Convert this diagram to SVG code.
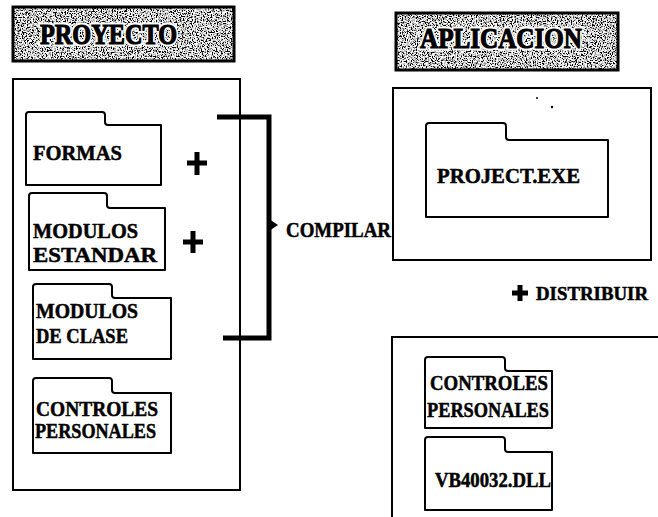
<svg xmlns="http://www.w3.org/2000/svg" width="658" height="517" viewBox="0 0 658 517">
<style>
.box{fill:none;stroke:#000;stroke-width:2}
.folder{fill:#fff;stroke:#000;stroke-width:2;stroke-linejoin:round}
.lbl{font-family:"Liberation Serif","Times New Roman",serif;font-weight:bold;font-size:21px;fill:#000;stroke:#000;stroke-width:0.5}
.hdr{font-family:"Liberation Serif","Times New Roman",serif;font-weight:bold;font-size:30px;fill:#000}
.halo{stroke:#fff;stroke-width:5;stroke-linejoin:round}
.ink{stroke:#000;stroke-width:1.2}
.plus{stroke:#000;stroke-width:5;fill:none}
.brk{stroke:#000;stroke-width:5;fill:none;stroke-linejoin:miter}
</style>
<defs>
<filter id="grain" x="0" y="0" width="100%" height="100%">
<feTurbulence type="fractalNoise" baseFrequency="0.8" numOctaves="2" seed="3" result="n"/>
<feColorMatrix in="n" type="matrix" values="0 0 0 0 0  0 0 0 0 0  0 0 0 0 0  -5 0 0 0 2.9" result="a"/>
<feComposite in="a" in2="SourceGraphic" operator="in" result="dots"/>
<feMerge><feMergeNode in="SourceGraphic"/><feMergeNode in="dots"/></feMerge>
</filter>
</defs>

<g id="hdr-proyecto">
<rect x="13" y="7" width="221" height="54" fill="#fff" filter="url(#grain)"/>
<rect x="13" y="7" width="221" height="54" fill="none" stroke="#000" stroke-width="3"/>
<text class="hdr halo" x="40" y="44" textLength="137" lengthAdjust="spacingAndGlyphs">PROYECTO</text>
<text class="hdr ink" x="40" y="44" textLength="137" lengthAdjust="spacingAndGlyphs">PROYECTO</text>
</g>

<g id="hdr-aplicacion">
<rect x="396" y="13" width="222" height="57" fill="#fff" filter="url(#grain)"/>
<rect x="396" y="13" width="222" height="57" fill="none" stroke="#000" stroke-width="3"/>
<text class="hdr halo" x="420" y="48" textLength="162" lengthAdjust="spacingAndGlyphs">APLICACION</text>
<text class="hdr ink" x="420" y="48" textLength="162" lengthAdjust="spacingAndGlyphs">APLICACION</text>
</g>

<g id="proyecto">
<rect class="box" x="13" y="79" width="227" height="411"/>
</g>

<g id="formas">
<path class="folder" d="M26,185 V115 Q26,112 29,112 H102 Q105,112 105,115 V122 Q105,125 108,125 H161 V185 Z"/>
<text class="lbl" x="33" y="160" textLength="89" lengthAdjust="spacingAndGlyphs">FORMAS</text>
</g>

<g id="modulos-estandar">
<path class="folder" d="M29,270 V196 Q29,193 32,193 H104 Q107,193 107,196 V205 Q107,208 110,208 H165 V270 Z"/>
<text class="lbl" x="33" y="238" textLength="105" lengthAdjust="spacingAndGlyphs">MODULOS</text>
<text class="lbl" x="33" y="262" textLength="124" lengthAdjust="spacingAndGlyphs">ESTANDAR</text>
</g>

<g id="modulos-clase">
<path class="folder" d="M33,359 V287 Q33,284 36,284 H109 Q112,284 112,287 V295 Q112,298 115,298 H171 V359 Z"/>
<text class="lbl" x="36" y="318" textLength="102" lengthAdjust="spacingAndGlyphs">MODULOS</text>
<text class="lbl" x="36" y="343" textLength="92" lengthAdjust="spacingAndGlyphs">DE CLASE</text>
</g>

<g id="controles-left">
<path class="folder" d="M33,453 V381 Q33,378 36,378 H109 Q112,378 112,381 V390 Q112,393 115,393 H171 V453 Z"/>
<text class="lbl" x="36" y="416" textLength="122" lengthAdjust="spacingAndGlyphs">CONTROLES</text>
<text class="lbl" x="35" y="438" textLength="121" lengthAdjust="spacingAndGlyphs">PERSONALES</text>
</g>

<g id="aplicacion">
<rect class="box" x="393" y="88" width="258" height="172"/>
<circle cx="537" cy="98" r="1" fill="#000"/>
<circle cx="552" cy="107" r="1.2" fill="#000"/>
</g>

<g id="project-exe">
<path class="folder" d="M426,217 V126 Q426,123 429,123 H503 Q506,123 506,126 V137 Q506,140 509,140 H608 V217 Z"/>
<text class="lbl" x="437" y="183" textLength="143" lengthAdjust="spacingAndGlyphs">PROJECT.EXE</text>
</g>

<g id="distribucion">
<path class="box" d="M392,520 V337 H660"/>
</g>

<g id="controles-right">
<path class="folder" d="M425,428 V360 Q425,357 428,357 H502 Q505,357 505,360 V368 Q505,371 508,371 H552 V428 Z"/>
<text class="lbl" x="430" y="390" textLength="118" lengthAdjust="spacingAndGlyphs">CONTROLES</text>
<text class="lbl" x="427" y="417" textLength="122" lengthAdjust="spacingAndGlyphs">PERSONALES</text>
</g>

<g id="vb40032">
<path class="folder" d="M425,510 V440 Q425,437 428,437 H502 Q505,437 505,440 V449 Q505,452 508,452 H552 V510 Z"/>
<text class="lbl" x="435" y="487" textLength="116" lengthAdjust="spacingAndGlyphs">VB40032.DLL</text>
</g>

<g id="connectors">
<path class="plus" d="M187,163 H207 M197,152 V175"/>
<path class="plus" d="M183,242 H203 M193,231 V253"/>
<path class="brk" d="M217,117 H269 V338 H223"/>
<path d="M269,219 L278,225 L269,231 Z" fill="#000"/>
<text class="lbl" x="286" y="237" textLength="105" lengthAdjust="spacingAndGlyphs">COMPILAR</text>
<path class="plus" d="M512,293 H528 M520,285 V301"/>
<text class="lbl" x="536" y="300" style="font-size:19px" textLength="112" lengthAdjust="spacingAndGlyphs">DISTRIBUIR</text>
</g>
</svg>
